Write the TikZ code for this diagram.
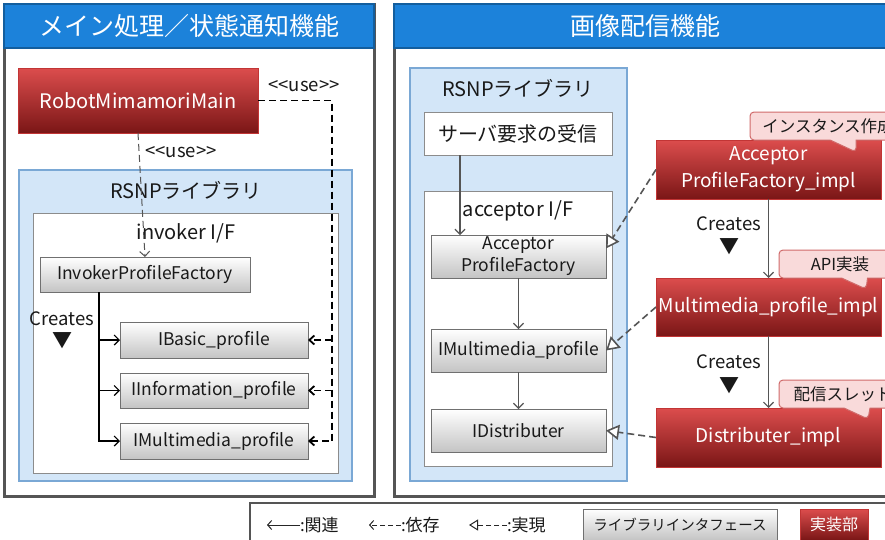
\documentclass[tikz,border=0pt]{standalone}
\usepackage{fontspec}
\setmainfont{Noto Sans CJK JP}
\usetikzlibrary{arrows.meta,shapes.callouts}

\definecolor{titleblue}{HTML}{1C82DA}
\definecolor{titleedge}{HTML}{135E9E}
\definecolor{frame}{HTML}{555555}
\definecolor{libfill}{HTML}{D3E6F8}
\definecolor{libedge}{HTML}{7AA8D5}
\definecolor{redtop}{HTML}{DC4D4D}
\definecolor{redbot}{HTML}{7A1616}
\definecolor{rededge}{HTML}{C23535}
\definecolor{notefill}{HTML}{F9DADA}
\definecolor{noteedge}{HTML}{D06A6A}
\definecolor{ifgray}{HTML}{C4C4C4}
\definecolor{ifedge}{HTML}{707070}
\definecolor{linkgray}{HTML}{555555}

\newcommand{\usetag}{\mbox{<}\mbox{<}use\mbox{>}\mbox{>}}

\begin{document}
\begin{tikzpicture}[x=1pt, y=-1pt,
    every node/.style={inner sep=0pt, outer sep=0pt, text=black!90},
    panel/.style={rectangle, draw=frame, line width=3pt, fill=white, anchor=north west},
    titlebar/.style={rectangle, draw=titleedge, line width=2.5pt, fill=titleblue, text=white, font=\fontsize{25}{28}\selectfont, anchor=north west},
    libbox/.style={rectangle, draw=libedge, line width=1.5pt, fill=libfill, anchor=north west},
    ifgroup/.style={rectangle, draw=black!45, line width=1pt, fill=white, anchor=north west},
    ifbox/.style={rectangle, draw=ifedge, line width=1pt, top color=white, bottom color=ifgray, font=\fontsize{17.5}{22}\selectfont, align=center, anchor=north west},
    implbox/.style={rectangle, draw=rededge, line width=1pt, top color=redtop, bottom color=redbot, text=white, font=\fontsize{19}{27}\selectfont, align=center, anchor=north west},
    notebox/.style={rectangle callout, rounded corners=4pt, draw=noteedge, line width=1pt, fill=notefill, font=\fontsize{16.5}{18}\selectfont, anchor=north west, callout pointer width=26pt},
    heading/.style={font=\fontsize{20}{24}\selectfont},
    iflabel/.style={font=\fontsize{20}{24}\selectfont},
    smalltext/.style={font=\fontsize{18.5}{22}\selectfont},
    marker/.style={font=\fontsize{20}{22}\selectfont},
    legendtext/.style={font=\fontsize{17}{20}\selectfont, anchor=west},
    uses/.style={black, line width=1.8pt, dash pattern=on 7pt off 4pt, -{Straight Barb[length=5pt, width=9pt]}},
    usesthin/.style={linkgray, line width=1pt, dash pattern=on 7pt off 4pt, -{Straight Barb[length=5pt, width=10pt]}},
    creates/.style={black, line width=1.2pt, -{Straight Barb[length=5pt, width=10pt]}},
    assoc/.style={linkgray, line width=1.2pt, -{Straight Barb[length=5pt, width=10pt]}},
    realize/.style={linkgray, line width=1.6pt, dash pattern=on 7pt off 4pt, -{Triangle[open, length=13pt, width=15pt, fill=white]}}
]
    \useasboundingbox (0,0) rectangle (885,539);
    \clip (0,0) rectangle (885,539);

    % main / status panel
    \node[panel, minimum width=370pt, minimum height=492pt] (mainpanel) at (4,4) {};
    \node[titlebar, minimum width=370pt, minimum height=44pt] (maintitle) at (4,4) {メイン処理／状態通知機能};

    \node[implbox, minimum width=240pt, minimum height=65pt, font=\fontsize{20}{24}\selectfont] (main) at (18,68) {RobotMimamoriMain};

    \node[libbox, minimum width=333pt, minimum height=311pt] (invlib) at (19,170) {};
    \node[heading] (invlibname) at (186,190) {RSNPライブラリ};
    \node[ifgroup, minimum width=305pt, minimum height=260pt] (invif) at (33,213) {};
    \node[iflabel] (invifname) at (186,233) {invoker I/F};

    \node[ifbox, minimum width=210pt, minimum height=35pt] (ipf) at (40,257) {InvokerProfileFactory};
    \node[ifbox, minimum width=188pt, minimum height=36pt] (ibp) at (120,322) {IBasic\_profile};
    \node[ifbox, minimum width=188pt, minimum height=35pt] (iip) at (120,373) {IInformation\_profile};
    \node[ifbox, minimum width=188pt, minimum height=36pt] (imp) at (120,423) {IMultimedia\_profile};

    \node[smalltext] (usenear) at (181,152) {\usetag};
    \node[smalltext] (usefar) at (304,86) {\usetag};
    \node[smalltext] (invcreates) at (62,319) {Creates};
    \node[marker] (invmark) at (62,341) {▼};

    \draw[usesthin] (main.south) -- (ipf.north);
    \draw[uses] (main.east) -- ++(74,0) |- (imp.east);
    \coordinate (usebus) at (332,100);
    \draw[uses] (usebus |- ibp.east) -- (ibp.east);
    \draw[uses] (usebus |- iip.east) -- (iip.east);

    \coordinate (stem) at ([xshift=59pt]ipf.south west);
    \draw[creates] (stem) |- (imp.west);
    \draw[creates] (stem |- ibp.west) -- (ibp.west);
    \draw[creates] (stem |- iip.west) -- (iip.west);

    % image delivery panel
    \node[panel, minimum width=502pt, minimum height=492pt] (imgpanel) at (394,4) {};
    \node[titlebar, minimum width=502pt, minimum height=44pt] (imgtitle) at (394,4) {画像配信機能};

    \node[libbox, minimum width=217pt, minimum height=413pt] (acclib) at (410,68) {};
    \node[heading] (acclibname) at (518,88) {RSNPライブラリ};
    \node[ifgroup, minimum width=188pt, minimum height=43pt, font=\fontsize{20}{24}\selectfont] (srv) at (424,112) {サーバ要求の受信};
    \node[ifgroup, minimum width=188pt, minimum height=275pt] (accif) at (424,191) {};
    \node[iflabel] (accifname) at (518,211) {acceptor I/F};

    \node[ifbox, minimum width=175pt, minimum height=43pt] (apf) at (431,235) {Acceptor\\ProfileFactory};
    \node[ifbox, minimum width=175pt, minimum height=43pt] (imr) at (431,329) {IMultimedia\_profile};
    \node[ifbox, minimum width=175pt, minimum height=43pt] (idist) at (431,409) {IDistributer};

    \node[implbox, minimum width=225pt, minimum height=59pt] (apfi) at (656,140) {Acceptor\\ProfileFactory\_impl};
    \node[implbox, minimum width=225pt, minimum height=58pt] (mpi) at (656,278) {Multimedia\_profile\_impl};
    \node[implbox, minimum width=225pt, minimum height=59pt] (disti) at (656,408) {Distributer\_impl};

    \node[notebox, minimum width=156pt, minimum height=28pt, callout absolute pointer={(856,152)}] (note1) at (750,112) {インスタンス作成};
    \node[notebox, minimum width=122pt, minimum height=28pt, callout absolute pointer={(866,289)}] (note2) at (779,250) {API実装};
    \node[notebox, minimum width=128pt, minimum height=28pt, callout absolute pointer={(868,419)}] (note3) at (779,380) {配信スレッド};

    \node[smalltext] (acccreates1) at (729,224) {Creates};
    \node[marker] (accmark1) at (729,247) {▼};
    \node[smalltext] (acccreates2) at (729,362) {Creates};
    \node[marker] (accmark2) at (729,386) {▼};

    \draw[assoc] ([xshift=36pt]srv.south west) -- ([xshift=29pt]apf.north west);
    \draw[assoc] (apf.south) -- (imr.north);
    \draw[assoc] (imr.south) -- (idist.north);
    \draw[assoc] (apfi.south) -- (mpi.north);
    \draw[assoc] (mpi.south) -- (disti.north);

    \draw[realize] (apfi.west) -- ([yshift=8pt]apf.east);
    \draw[realize] (mpi.west) -- (imr.east);
    \draw[realize] (disti.west) -- (idist.east);

    % legend
    \node[panel, line width=1.5pt, minimum width=700pt, minimum height=60pt] (legend) at (250,503) {};
    \node[legendtext] (lgassoc) at (300,525) {:関連};
    \node[legendtext] (lgdep) at (401,525) {:依存};
    \node[legendtext] (lgreal) at (507,525) {:実現};
    \draw[black!85, line width=1pt, -{Straight Barb[length=4pt, width=9pt]}] (lgassoc.west) -- ++(-33,0);
    \draw[black!85, line width=1pt, dash pattern=on 5pt off 3pt, -{Straight Barb[length=4pt, width=9pt]}] (lgdep.west) -- ++(-32,0);
    \draw[black!85, line width=1pt, dash pattern=on 5pt off 3pt, -{Triangle[open, length=9pt, width=11pt, fill=white]}] (lgreal.west) -- ++(-38,0);
    \node[ifbox, minimum width=194pt, minimum height=31pt, font=\fontsize{14.5}{18}\selectfont] (lgif) at (583,509) {ライブラリインタフェース};
    \node[implbox, minimum width=68pt, minimum height=31pt, font=\fontsize{16}{20}\selectfont] (lgimpl) at (800,509) {実装部};
\end{tikzpicture}
\end{document}
